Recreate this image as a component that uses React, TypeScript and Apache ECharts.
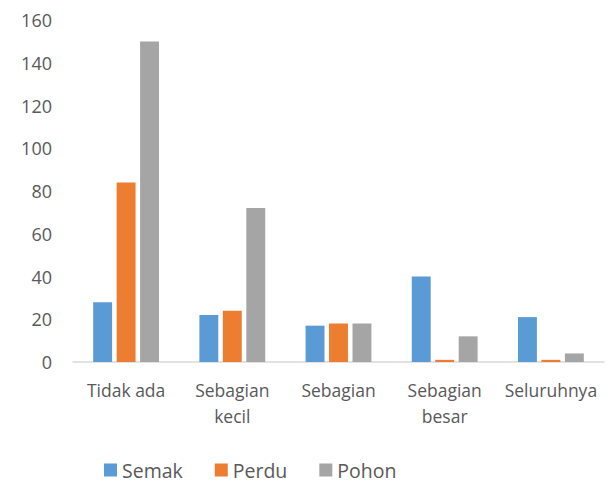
import React, { useEffect, useRef } from "react";
import * as echarts from "echarts";

const categories = ["Tidak ada", "Sebagian\nkecil", "Sebagian", "Sebagian\nbesar", "Seluruhnya"];
const semak = [28, 22, 17, 40, 21];
const perdu = [84, 24, 18, 1, 1];
const pohon = [150, 72, 18, 12, 4];
const yTicks = { min: 0, max: 160, interval: 20 };

const FONT = "Open Sans";
const TEXT = "#595959";

export default function App() {
  const ref = useRef<HTMLDivElement>(null);
  useEffect(() => {
    if (!ref.current) return;
    const chart = echarts.init(ref.current, undefined, { renderer: "svg" });
    chart.setOption({
      animation: false,
      backgroundColor: "#ffffff",
      textStyle: { fontFamily: FONT, color: TEXT },
      grid: { left: 73, right: 8, top: 20, bottom: 120, containLabel: false },
      legend: {
        top: 460,
        left: 104,
        padding: 0,
        itemWidth: 13,
        itemHeight: 13,
        itemGap: 32,
        icon: "rect",
        textStyle: { fontFamily: FONT, fontSize: 19.5, lineHeight: 20, color: TEXT },
        data: ["Semak", "Perdu", "Pohon"],
      },
      xAxis: {
        type: "category",
        data: categories,
        axisLine: { lineStyle: { color: "#D9D9D9", width: 1.5 } },
        axisTick: { show: false },
        axisLabel: { fontFamily: FONT, fontSize: 17.5, color: TEXT, lineHeight: 26, margin: 15, interval: 0 },
      },
      yAxis: {
        type: "value",
        min: yTicks.min,
        max: yTicks.max,
        interval: yTicks.interval,
        splitLine: { show: false },
        axisLine: { show: false },
        axisTick: { show: false },
        axisLabel: { fontFamily: FONT, fontSize: 18, color: TEXT, margin: 21 },
      },
      series: [
        { name: "Semak", type: "bar", data: semak, itemStyle: { color: "#5B9BD5" }, barGap: "24%", barCategoryGap: "38%" },
        { name: "Perdu", type: "bar", data: perdu, itemStyle: { color: "#ED7D31" } },
        { name: "Pohon", type: "bar", data: pohon, itemStyle: { color: "#A5A5A5" } },
      ],
    });
    return () => chart.dispose();
  }, []);
  return <div ref={ref} style={{ width: 612, height: 482, position: "absolute", left: 0, top: 0 }} />;
}
